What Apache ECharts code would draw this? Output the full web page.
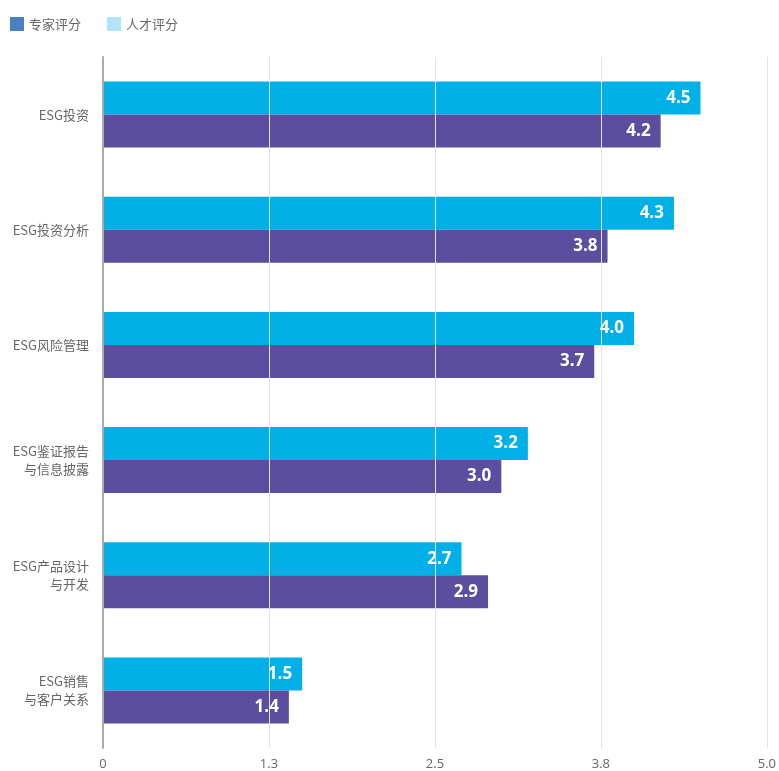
<!DOCTYPE html>
<html>
<head>
<meta charset="utf-8">
<script src="https://cdn.jsdelivr.net/npm/echarts@6/dist/echarts.min.js"></script>
<style>
  html, body { margin: 0; padding: 0; background: #fff; }
  #chart { width: 779px; height: 771px; }
</style>
</head>
<body>
<div id="chart"></div>
<script>
// Skill areas, top to bottom
const categories = [
  'ESG投资',
  'ESG投资分析',
  'ESG风险管理',
  'ESG鉴证报告\n与信息披露',
  'ESG产品设计\n与开发',
  'ESG销售\n与客户关系'
];
const seriesNames = ['专家评分', '人才评分'];
const expertScores = [4.5, 4.3, 4.0, 3.2, 2.7, 1.5];
const talentScores = [4.2, 3.8, 3.7, 3.0, 2.9, 1.4];
const xTicks = [0, 1.25, 2.5, 3.75, 5.0];

const barColors = ['#00b0e6', '#5b4e9e'];
const legendColors = ['#4a7fc4', '#b3e3f8'];

const chart = echarts.init(document.getElementById('chart'));

const valueLabel = {
  show: true,
  position: 'insideRight',
  distance: 10,
  color: '#fff',
  fontSize: 17,
  fontWeight: 'bold',
  fontFamily: '"Open Sans", sans-serif',
  formatter: p => p.value.toFixed(1)
};

chart.setOption({
  animation: false,
  textStyle: { fontFamily: '"Noto Sans CJK SC", "Open Sans", sans-serif' },
  legend: {
    left: 5,
    top: 12,
    itemWidth: 14,
    itemHeight: 14,
    itemGap: 26,
    textStyle: { color: '#666', fontSize: 13 },
    data: seriesNames.map((n, i) => ({
      name: n,
      icon: 'rect',
      itemStyle: { color: legendColors[i] }
    }))
  },
  grid: { left: 103, right: 11, top: 57, bottom: 23, containLabel: false },
  xAxis: {
    type: 'value',
    min: xTicks[0],
    max: xTicks[xTicks.length - 1],
    interval: xTicks[1] - xTicks[0],
    z: 5,
    axisLine: { show: false },
    axisTick: { show: false },
    axisLabel: {
      color: '#666',
      fontSize: 13,
      margin: 10,
      fontFamily: '"Open Sans", sans-serif',
      formatter: v => (v === 0 ? '0' : v.toFixed(1))
    },
    splitLine: { lineStyle: { color: '#e3e3e3', width: 1 } }
  },
  yAxis: {
    type: 'category',
    inverse: true,
    data: categories,
    z: 5,
    axisLine: { lineStyle: { color: '#aaa', width: 2 } },
    axisTick: { show: false },
    axisLabel: { color: '#666', fontSize: 13, margin: 14, lineHeight: 18 }
  },
  series: [
    {
      name: seriesNames[0],
      type: 'bar',
      data: expertScores,
      barWidth: 33,
      barGap: '0%',
      itemStyle: { color: barColors[0] },
      label: valueLabel
    },
    {
      name: seriesNames[1],
      type: 'bar',
      data: talentScores,
      barWidth: 33,
      barGap: '0%',
      itemStyle: { color: barColors[1] },
      label: valueLabel
    }
  ]
});
</script>
</body>
</html>
